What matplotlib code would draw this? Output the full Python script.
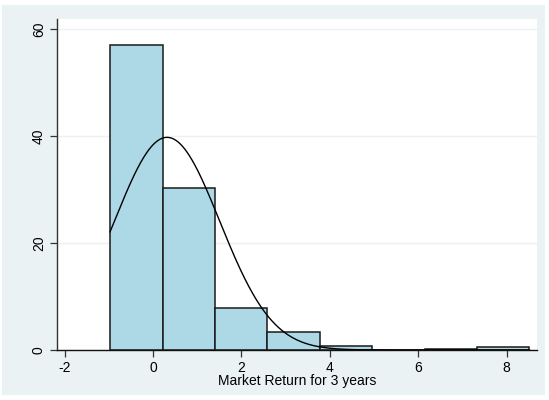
import numpy as np
import matplotlib.pyplot as plt
from matplotlib.patches import Rectangle

plt.rcParams['font.family'] = ['Liberation Sans', 'DejaVu Sans']
plt.rcParams['axes.unicode_minus'] = False

# histogram (percent per bin)
bin_edges = [-0.97, 0.22, 1.40, 2.59, 3.78, 4.96, 6.15, 7.34, 8.52]
percents = [57.0, 30.3, 7.85, 3.4, 0.75, 0.0, 0.2, 0.6]
# fitted normal overlay
mu, sigma = 0.32, 1.19
x_ticks = [-2, 0, 2, 4, 6, 8]
y_ticks = [0, 20, 40, 60]

bg = "#eaf2f3"

fig = plt.figure(figsize=(5.49, 4.00), dpi=100, facecolor="white")
fig.patches.append(Rectangle((2/549, 5/400), 543/549, 390/400, transform=fig.transFigure,
                             facecolor=bg, edgecolor="none", zorder=-10))
ax = fig.add_axes([57/549, 50/400, 480/549, 331/400])
ax.set_facecolor("white")

edges = np.array(bin_edges)
widths = np.diff(edges)
ax.bar(edges[:-1], percents, width=widths, align="edge", color="#add8e6",
       edgecolor="#1a1a1a", linewidth=1.1, zorder=2)

xs = np.linspace(edges[0], edges[-1], 400)
dens = 100 * widths.mean() / (sigma * np.sqrt(2 * np.pi)) * np.exp(-0.5 * ((xs - mu) / sigma) ** 2)
ax.plot(xs, dens, color="black", linewidth=1.0, zorder=3)

ax.set_xlim(-2.17, 8.69)
ax.set_ylim(0, 61.9)
ax.set_xticks(x_ticks)
ax.set_yticks(y_ticks)
ax.set_yticklabels([str(v) for v in y_ticks], rotation=90, va="center")
ax.yaxis.grid(True, color=bg, linewidth=1.0, zorder=0)
ax.set_axisbelow(True)
ax.tick_params(axis="both", labelsize=10, length=5, width=0.9, color="#333333", pad=3)
for s in ["top", "right"]:
    ax.spines[s].set_visible(False)
ax.spines["left"].set_color("#333333")
ax.spines["bottom"].set_color("#111111")
ax.spines["left"].set_linewidth(1.0)
ax.spines["bottom"].set_linewidth(1.0)
ax.set_xlabel("Market Return for 3 years", fontsize=10, labelpad=-1)

fig.savefig("out.png", dpi=100, facecolor="white")
